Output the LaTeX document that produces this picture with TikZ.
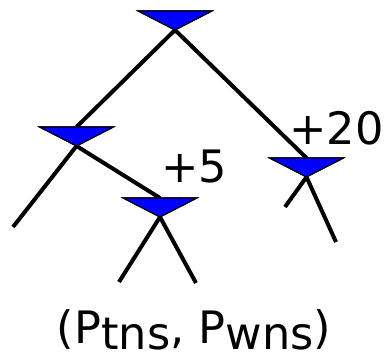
\documentclass[tikz,border=0pt]{standalone}
\usepackage{fontspec}
\setmainfont{DejaVu Sans}
\usetikzlibrary{positioning}
\tikzset{
  %% -- tree branch --
  tree/edge/.style={line width=3pt, black},
  %% -- blue down-pointing gate --
  tree/gate/.style={draw=black, line width=0.8pt, fill=blue, line join=miter},
  %% -- cost labels --
  tree/lbl/.style={font=\fontsize{33.5pt}{40pt}\selectfont, inner sep=0pt},
  pics/gate/.style={code={
    \draw[tree/gate] (-37,0) -- (37,0) -- (0,19) -- cycle;
    \coordinate (-top) at (0,0);
    \coordinate (-tip) at (0,19);
  }},
}
\begin{document}
\begin{tikzpicture}[x=0.75pt, y=-0.75pt]
\useasboundingbox (0,0) rectangle (390,360);

%% leaf ends
\coordinate (leafL)  at (13,227);
\coordinate (leafBL) at (119,282);
\coordinate (leafBR) at (196,283);
\coordinate (leafRL) at (285,207);
\coordinate (leafRR) at (336,242);

%% gate positions (top edge centre)
\coordinate (pRoot)  at (175,11);
\coordinate (pLeft)  at (76.5,127);
\coordinate (pRight) at (306.5,158);
\coordinate (pBot)   at (160,198);

%% branches first, gates on top
\path (pRoot) pic (root) {gate} (pLeft) pic (left) {gate}
      (pRight) pic (right) {gate} (pBot) pic (bot) {gate};
\draw[tree/edge] (root-tip) -- (left-top);
\draw[tree/edge] (root-tip) -- (right-top);
\draw[tree/edge] (left-tip) -- (leafL);
\draw[tree/edge] (left-tip) -- (bot-top);
\draw[tree/edge] (bot-tip) -- (leafBL);
\draw[tree/edge] (bot-tip) -- (leafBR);
\draw[tree/edge] (right-tip) -- (leafRL);
\draw[tree/edge] (right-tip) -- (leafRR);
\path (pRoot) pic (root) {gate} (pLeft) pic (left) {gate}
      (pRight) pic (right) {gate} (pBot) pic (bot) {gate};

%% labels
\node[tree/lbl, anchor=base west] (costR) at (289,145) {+20};
\node[tree/lbl, anchor=base west] (costB) at (161,183) {+5};
\node[tree/lbl, anchor=base] (pair) at (194,344)
  {(P\raisebox{-4.5pt}{tns}, P\raisebox{-4.5pt}{wns})};

\end{tikzpicture}
\end{document}
